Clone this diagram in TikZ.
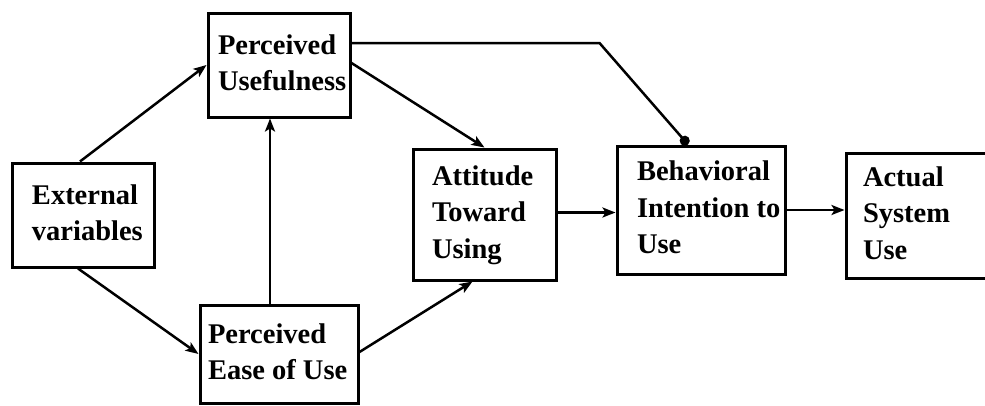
\documentclass[tikz,border=0pt]{standalone}
\usepackage{fontspec}
\setmainfont{Liberation Serif}
\usetikzlibrary{arrows.meta}

% left-aligned block of lines inside a box of given width, after a left padding
\newcommand{\boxlines}[3]{\makebox[#1][l]{\hspace*{#2}\begin{tabular}{@{}l@{}}#3\end{tabular}}}

\tikzset{
  box/.style={draw=black, line width=3pt, rectangle, anchor=center,
    inner sep=0pt,
    font=\bfseries\fontsize{28.5}{36.5}\selectfont},
  link/.style={draw=black, line width=2.5pt},
  arr/.style={link, -{Stealth[length=13pt,width=10pt,inset=3pt]}},
  dotlink/.style={link, -{Circle[length=10pt]}}
}

\begin{document}
\begin{tikzpicture}[x=1pt, y=-1pt]
  \useasboundingbox (0,0) rectangle (985,405);

  % construct boxes
  \node[box, minimum height=104pt] (pu) at (279,65)
    {\boxlines{142pt}{10pt}{Perceived\\Usefulness}};
  \node[box, minimum height=104pt] (ext) at (83,215)
    {\boxlines{142pt}{20pt}{External\\variables}};
  \node[box, minimum height=98pt] (peou) at (279,354)
    {\boxlines{158pt}{8pt}{Perceived\\Ease of Use}};
  \node[box, minimum height=131pt] (att) at (484.5,214.5)
    {\boxlines{143pt}{19pt}{Attitude\\Toward\\Using}};
  \node[box, minimum height=128pt] (beh) at (701,210)
    {\boxlines{168pt}{20pt}{Behavioral\\Intention to\\Use}};
  \node[box, minimum height=125pt] (act) at (931,215.5)
    {\boxlines{170pt}{17pt}{Actual\\System\\Use}};

  % connectors
  \draw[arr] ([xshift=-3pt]ext.north) -- (pu.west);
  \draw[arr] ([xshift=-5pt]ext.south) -- (peou.west);
  \draw[arr] ([xshift=-9pt]peou.north) -- ([xshift=-9pt]pu.south);
  \draw[arr] ([yshift=2pt]peou.east) -- ([xshift=-12pt]att.south);
  \draw[arr] ([yshift=2pt]pu.east) -- (att.north);
  \draw[dotlink] ([yshift=22pt]pu.east) -- ++(248,0) -- ([xshift=-13pt]beh.north);
  \draw[arr] ([yshift=2pt]att.east) -- ([yshift=2pt]att.east -| beh.west);
  \draw[arr] (beh.east) -- (beh.east -| act.west);
\end{tikzpicture}
\end{document}
